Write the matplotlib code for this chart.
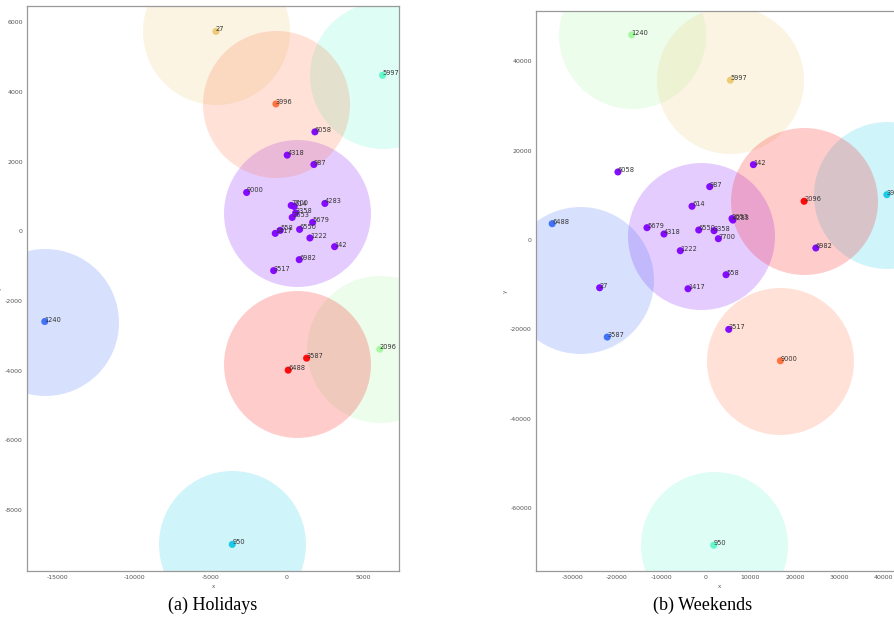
import numpy as np
import matplotlib.pyplot as plt

plt.rcParams['axes.unicode_minus'] = False

# Holidays: user ids, projected coordinates and cluster id
hol_labels = ['27', '5997', '3996', '6058', '4318', '987', '9000', '4283', '7700', '614',
              '3358', '2653', '5679', '6550', '558', '1417', '1222', '142', '6982', '3517',
              '1240', '3587', '6488', '2096', '950']
hol_x = [-4641, 6255, -719, 1830, 20, 1765, -2634, 2484, 281, 477,
         569, 346, 1680, 830, -438, -765, 1503, 3118, 804, -869,
         -15837, 1288, 85, 6078, -3575]
hol_y = [5742, 4481, 3659, 2857, 2189, 1920, 1117, 802, 745, 716,
         527, 401, 258, 57, 29, -57, -189, -438, -811, -1126,
         -2587, -3639, -3983, -3381, -8986]
hol_cluster = [5, 3, 6, 0, 0, 0, 0, 0, 0, 0,
               0, 0, 0, 0, 0, 0, 0, 0, 0, 0,
               1, 7, 7, 4, 2]

# Weekends
wkd_labels = ['1240', '5997', '6058', '142', '987', '614', '6488', '5679', '4318', '6550',
              '3358', '7700', '2653', '4283', '2096', '3996', '1222', '6982', '558', '1417',
              '27', '3587', '3517', '9000', '950']
wkd_x = [-16629, 5528, -19708, 10697, 899, -3079, -34472, -13191, -9371, -1573,
         1865, 2831, 5900, 6100, 22090, 40674, -5708, 24719, 4562, -3978,
         -23820, -22112, 5169, 16764, 1798]
wkd_y = [45861, 35727, 15213, 16846, 11924, 7539, 3647, 2752, 1342, 2237,
         2081, 291, 4800, 4450, 8658, 10134, -2394, -1790, -7763, -10895,
         -10671, -21700, -19978, -27002, -68233]
wkd_cluster = [4, 5, 0, 0, 0, 0, 1, 0, 0, 0,
               0, 0, 0, 0, 7, 2, 0, 0, 0, 0,
               0, 1, 0, 6, 3]

n_clusters = 8
colors = plt.cm.rainbow(np.linspace(0, 1, n_clusters))


def plot_clusters(ax, labels, xs, ys, clusters, xlim, ylim, xticks, yticks):
    xs = np.array(xs, dtype=float)
    ys = np.array(ys, dtype=float)
    clusters = np.array(clusters)
    # cluster area drawn around the centroid
    for c in range(n_clusters):
        m = clusters == c
        if m.any():
            ax.scatter(xs[m].mean(), ys[m].mean(), s=11200, color=colors[c],
                       alpha=0.2, linewidths=0, zorder=1)
    ax.scatter(xs, ys, s=26, c=colors[clusters], alpha=0.95, linewidths=0, zorder=2)
    for lab, x, y in zip(labels, xs, ys):
        ax.annotate(lab, (x, y), fontsize=4.8, color='#333333', zorder=3)
    ax.set_xlim(*xlim)
    ax.set_ylim(*ylim)
    ax.set_xticks(xticks)
    ax.set_yticks(yticks)
    ax.tick_params(labelsize=4.5, length=0, pad=3, colors='#555555')
    ax.set_xlabel('x', fontsize=4, color='#555555', labelpad=3)
    ax.set_ylabel('y', fontsize=4, color='#555555', labelpad=2)
    for sp in ax.spines.values():
        sp.set_color('#999999')
        sp.set_linewidth(0.9)


fig = plt.figure(figsize=(8.94, 6.27), dpi=100)
ax1 = fig.add_axes([0.0302, 0.0893, 0.4161, 0.9011])
ax2 = fig.add_axes([0.5996, 0.0893, 0.4105, 0.8932])

plot_clusters(ax1, hol_labels, hol_x, hol_y, hol_cluster,
              (-17000, 7330), (-9750, 6470),
              [-15000, -10000, -5000, 0, 5000],
              [-8000, -6000, -4000, -2000, 0, 2000, 4000, 6000])
plot_clusters(ax2, wkd_labels, wkd_x, wkd_y, wkd_cluster,
              (-38100, 44300), (-74000, 51200),
              [-30000, -20000, -10000, 0, 10000, 20000, 30000, 40000],
              [-60000, -40000, -20000, 0, 20000, 40000])

fig.text(0.238, 0.035, '(a) Holidays', ha='center', va='center',
         fontsize=13, family='Liberation Serif')
fig.text(0.786, 0.035, '(b) Weekends', ha='center', va='center',
         fontsize=13, family='Liberation Serif')

fig.savefig('out.png', dpi=100)
